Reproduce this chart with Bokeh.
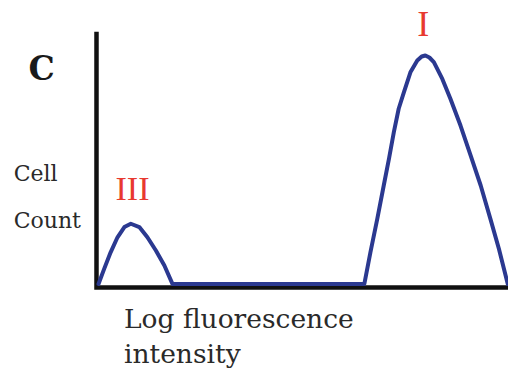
from bokeh.plotting import figure
from bokeh.models import Range1d, Label
from bokeh.embed import file_html
from bokeh.resources import INLINE

# Histogram outline (x: log fluorescence, y: cell count)
intensity = [0.5, 1.9, 3.5, 5.2, 6.9, 8.5, 10.6, 12.6, 14.7, 16.8, 18.8,
             66.3, 67.8, 69.5, 71.1, 72.4, 73.6, 74.8, 76.1, 77.7, 79.4, 80.5,
             81.4, 82.4, 83.5, 85.6, 87.6, 90.1, 92.6, 95.1, 97.5, 99.6, 101.8]
count = [1.4, 7.3, 13.8, 19.7, 23.7, 25.0, 23.7, 19.7, 14.5, 8.6, 1.4,
         1.4, 13.8, 26.9, 40.0, 50.5, 60.9, 70.1, 76.6, 84.4, 89.0, 90.6,
         91.0, 90.2, 88.4, 81.8, 74.0, 63.5, 51.8, 40.0, 26.9, 15.2, 1.4]

# axes (origin at 0, 0)
axis_x = [0, 0, 102]
axis_y = [100.3, 0, 0]

peak_names = ["III", "I"]
peak_x = [4.7, 80.9]
peak_y = [39.0, 103.3]

W, H = 508, 373
p = figure(width=W, height=H, x_range=Range1d(-23.76, 101.98), y_range=Range1d(-33.73, 112.55),
           min_border=0, toolbar_location=None, output_backend="svg",
           x_axis_type=None, y_axis_type=None)
p.outline_line_color = None
p.xgrid.visible = False
p.ygrid.visible = False

p.line(axis_x, axis_y, line_color="#111111", line_width=4.5, line_join="miter")
p.line(intensity, count, line_color="#2b3990", line_width=4, line_join="round", line_cap="round")

# peak labels
p.add_layout(Label(x=peak_x[0], y=peak_y[0], text=peak_names[0], text_font="Liberation Serif",
                   text_font_size="34px", text_color="#e8392f", text_baseline="alphabetic"))
p.add_layout(Label(x=peak_x[1], y=peak_y[1], text=peak_names[1], text_font="Liberation Serif",
                   text_font_size="36px", text_color="#e8392f", text_baseline="alphabetic",
                   text_align="center"))

grey = "#2a2a2a"
p.add_layout(Label(x=-16.8, y=85.7, text="C", text_font="DejaVu Serif", text_font_style="bold",
                   text_font_size="33px", text_color="#1a1a1a", text_baseline="alphabetic"))
p.add_layout(Label(x=-20.5, y=44.7, text="Cell", text_font="DejaVu Serif",
                   text_font_size="22px", text_color=grey, text_baseline="alphabetic"))
p.add_layout(Label(x=-20.5, y=26.2, text="Count", text_font="DejaVu Serif",
                   text_font_size="22px", text_color=grey, text_baseline="alphabetic"))
p.add_layout(Label(x=6.8, y=-12.0, text="Log fluorescence", text_font="DejaVu Serif",
                   text_font_size="26.5px", text_color=grey, text_baseline="alphabetic"))
p.add_layout(Label(x=6.8, y=-26.0, text="intensity", text_font="DejaVu Serif",
                   text_font_size="26.5px", text_color=grey, text_baseline="alphabetic"))

open("out.html", "w").write(file_html(p, INLINE))
